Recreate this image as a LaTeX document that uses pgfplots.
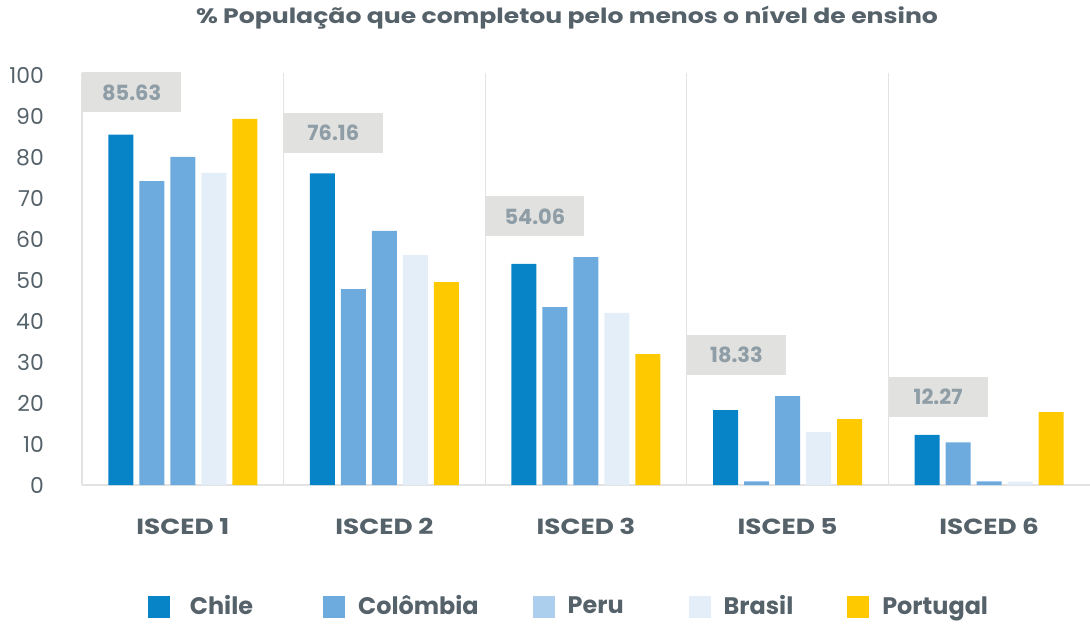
\documentclass[border=0pt]{standalone}
\usepackage{pgfplots}
\pgfplotsset{compat=1.18}
\usepackage{fontspec}
\setmainfont{Poppins}
\newfontfamily\wideff{Poppins}[FakeStretch=1.2]
\newfontfamily\titleff{Poppins}[FakeStretch=1.2]
\definecolor{cChile}{HTML}{0784C8}
\definecolor{cCol}{HTML}{6DABDF}
\definecolor{cPeru}{HTML}{ABCFEC}
\definecolor{cBra}{HTML}{E4EEF8}
\definecolor{cPor}{HTML}{FFC900}
\definecolor{gridgray}{HTML}{E3E3E3}
\definecolor{txt}{HTML}{56626A}
\definecolor{boxgray}{HTML}{E1E1DF}
\definecolor{lbl}{HTML}{8E9DA6}
\begin{document}
\begin{tikzpicture}
\begin{axis}[
  at={(0,0)}, anchor=south west, scale only axis,
  width=1008bp, height=412bp,
  xmin=-0.5, xmax=4.5, ymin=0, ymax=100.7,
  axis x line*=bottom, axis y line*=left,
  axis line style={draw=gridgray, line width=1.3pt, -},
  xtick={0,1,2,3,4},
  xticklabels={ISCED 1,ISCED 2,ISCED 3,ISCED 5,ISCED 6},
  minor xtick={0.5,1.5,2.5,3.5},
  xminorgrids=true,
  minor grid style={draw=gridgray, line width=1.3pt},
  ytick={0,10,...,100},
  major tick length=0pt, minor tick length=0pt,
  tick style={draw=none},
  /pgf/number format/assume math mode=true,
  yticklabel style={font=\fontsize{22}{22}\selectfont, text=txt, anchor=east, inner sep=0pt, xshift=-38bp},
  xticklabel style={font=\wideff\fontsize{22}{22}\selectfont\bfseries, text=txt, anchor=base, inner sep=0pt, yshift=-49bp},
  clip=false,
  legend columns=5,
  legend style={draw=none, fill=none, at={(0.5,0)}, anchor=center, xshift=-18bp, yshift=-122bp,
    font=\fontsize{24}{24}\selectfont\bfseries, text=txt,
    nodes={inner sep=0pt},
    /tikz/every odd column/.append style={column sep=13bp},
    /tikz/every even column/.append style={column sep=54bp}},
  legend image code/.code={\fill[#1, draw=none] (0bp,-12bp) rectangle (22bp,10bp);},
]
\addplot[ybar, bar width=25bp, bar shift=-62bp, fill=cChile, draw=none, forget plot]
  coordinates {(0,85.63) (1,76.16) (2,54.06) (3,18.33) (4,12.27)};
\addplot[ybar, bar width=25bp, bar shift=-31bp, fill=cCol, draw=none, forget plot]
  coordinates {(0,74.3) (1,47.9) (2,43.5) (3,0.9) (4,10.4)};
\addplot[ybar, bar width=25bp, bar shift=0bp, fill=cCol, draw=none, forget plot]
  coordinates {(0,80.2) (1,62.1) (2,55.7) (3,21.7) (4,0.9)};
\addplot[ybar, bar width=25bp, bar shift=31bp, fill=cBra, draw=none, forget plot]
  coordinates {(0,76.3) (1,56.2) (2,42.1) (3,12.9) (4,0.8)};
\addplot[ybar, bar width=25bp, bar shift=62bp, fill=cPor, draw=none, forget plot]
  coordinates {(0,89.5) (1,49.6) (2,32.0) (3,16.1) (4,17.8)};
\addplot[draw=none, mark=none, forget plot, nodes near coords, point meta=explicit symbolic,
  every node near coord/.style={anchor=south west, fill=boxgray, text=lbl,
    font=\fontsize{21}{21}\selectfont\bfseries, minimum width=99bp, minimum height=40bp,
    inner sep=0pt}]
  coordinates {(-0.5,91.0) [85.63] (0.5,81.2) [76.16] (1.5,60.7) [54.06] (2.5,26.9) [18.33] (3.5,16.6) [12.27]};
\addlegendimage{fill=cChile}\addlegendentry{\hspace*{7bp}Chile\hspace*{16bp}}
\addlegendimage{fill=cCol}\addlegendentry{Colômbia}
\addlegendimage{fill=cPeru}\addlegendentry{Peru\hspace*{11bp}}
\addlegendimage{fill=cBra}\addlegendentry{Brasil}
\addlegendimage{fill=cPor}\addlegendentry{Portugal}
\end{axis}
\node[anchor=base, font=\titleff\fontsize{21}{21}\selectfont\bfseries, text=txt, inner sep=0pt] at (485bp,461bp)
  {\% População que completou pelo menos o nível de ensino};
\pgfresetboundingbox
\path[use as bounding box] (-82bp,-139bp) rectangle (1008bp,485bp);
\end{tikzpicture}
\end{document}
